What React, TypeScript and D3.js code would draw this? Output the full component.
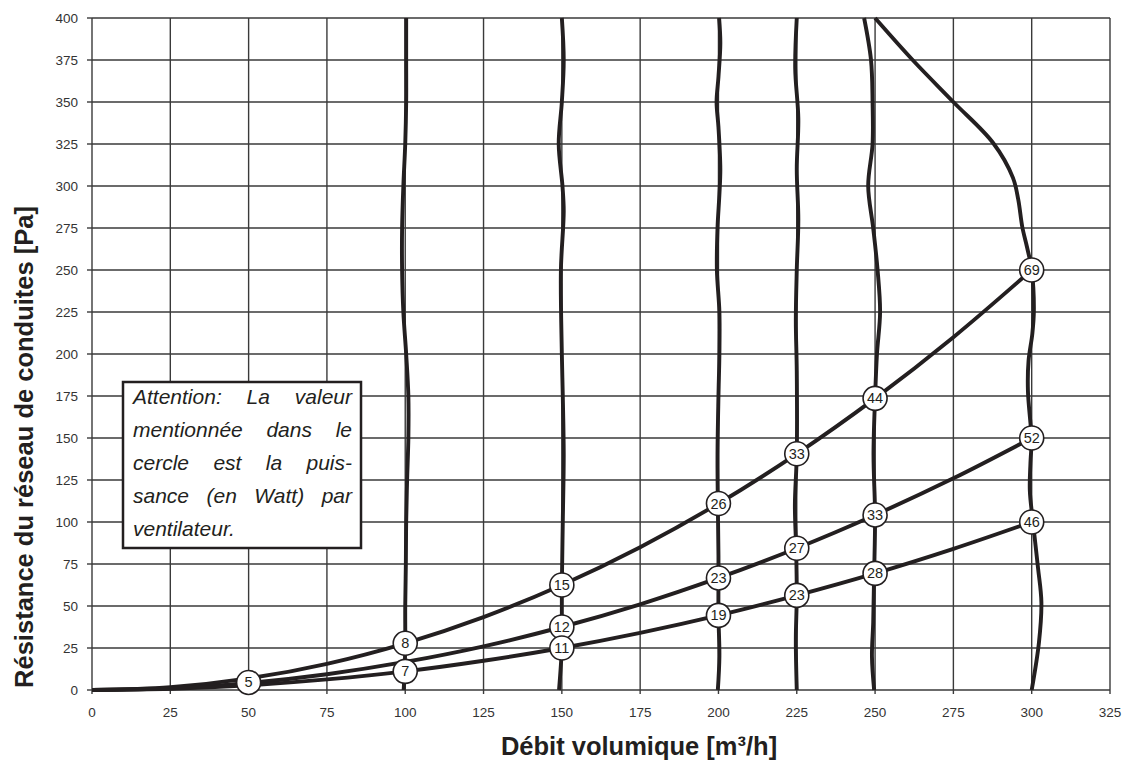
import React, { useMemo } from "react";
import * as d3 from "d3";

const W = 1123;
const H = 767;
const PLOT = { left: 92, right: 1110, top: 18, bottom: 690 };

const xTicks = [0, 25, 50, 75, 100, 125, 150, 175, 200, 225, 250, 275, 300, 325];
const yTicks = [0, 25, 50, 75, 100, 125, 150, 175, 200, 225, 250, 275, 300, 325, 350, 375, 400];

// System curves (resistance vs flow)
const systemHigh: [number, number][] = [
  [0, 0], [25, 1.7], [50, 6.9], [75, 15.6], [100, 27.8], [125, 43.4], [150, 62.5], [175, 85],
  [200, 111], [225, 140.6], [250, 173.6], [275, 210], [300, 250],
];
const systemMid: [number, number][] = [
  [0, 0], [25, 1.0], [50, 4.2], [75, 9.4], [100, 16.7], [125, 26], [150, 37.5], [175, 51],
  [200, 66.7], [225, 84.4], [250, 104.2], [275, 126], [300, 150],
];
const systemLow: [number, number][] = [
  [0, 0], [25, 0.7], [50, 2.8], [75, 6.3], [100, 11.1], [125, 17.4], [150, 25], [175, 34],
  [200, 44.4], [225, 56.3], [250, 69.4], [275, 84], [300, 100],
];

// Fan curves (near-vertical), [flow, pressure]
const fan100: [number, number][] = [
  [100.3, 400], [100.3, 375], [100.3, 350], [100, 325], [99.4, 300], [99.0, 275], [99.0, 250],
  [99.4, 225], [100.3, 200], [101.0, 175], [101.0, 150], [100.6, 125], [100.3, 100], [100.2, 75],
  [100, 50], [100, 28], [99.8, 11], [99.5, 0],
];
const fan150: [number, number][] = [
  [150.0, 400], [150.6, 375], [150.0, 350], [149.0, 325], [150.2, 300], [150.6, 285], [149.7, 250],
  [150.0, 200], [150.3, 175], [150.6, 140], [150.3, 100], [150, 62], [150, 37], [150, 25], [149.1, 0],
];
const fan200: [number, number][] = [
  [200.2, 400], [200.6, 385], [200, 365], [199.4, 350], [200, 335], [200.6, 310], [200.3, 295],
  [199.7, 275], [199.5, 250], [200.3, 225], [200.3, 200], [200, 175], [199.7, 140], [199.8, 111],
  [200, 80], [200, 67], [200, 44], [200.3, 20], [199.8, 0],
];
const fan225: [number, number][] = [
  [225, 400], [224.5, 370], [225.5, 340], [225, 310], [225.5, 280], [225, 250], [224.7, 220],
  [225, 190], [225, 140], [224.4, 110], [224.8, 84], [225, 56], [224.7, 30], [225, 0],
];
const fan250: [number, number][] = [
  [246.5, 400], [248.7, 375], [249.2, 350], [249.2, 325], [247.8, 300], [249.4, 275], [250.8, 250],
  [251.6, 225], [250.6, 200], [250, 174], [249.5, 140], [250, 104], [249.7, 69], [249.4, 40],
  [249.0, 20], [249.7, 0],
];
const fan300: [number, number][] = [
  [250, 400], [262, 375], [275, 350], [287.7, 325.6], [294, 305], [295.7, 292], [297, 275.6],
  [298.5, 263.7], [300, 250], [300.7, 226], [300.2, 212], [299, 196], [298.8, 178], [299.6, 159],
  [300, 150], [299.6, 135], [299.4, 119], [300.4, 100], [302, 73], [303.1, 52], [302.3, 28], [300, 0],
];

// Power labels (Watt) at intersections
const labelX = [50, 100, 100, 150, 150, 150, 200, 200, 200, 225, 225, 225, 250, 250, 250, 300, 300, 300];
const labelY = [4.5, 27.8, 11.1, 62.5, 37.5, 25, 111, 66.7, 44.4, 140.6, 84.4, 56.3, 173.6, 104.2, 69.4, 250, 150, 100];
const labelText = ["5", "8", "7", "15", "12", "11", "26", "23", "19", "33", "27", "23", "44", "33", "28", "69", "52", "46"];

const noteLines = [
  "Attention: La valeur",
  "mentionnée dans le",
  "cercle est la puis-",
  "sance (en Watt) par",
  "ventilateur.",
];

const INK = "#231f20";
const GRID = "#3a3a3a";
const FONT = "'Liberation Sans', Arial, Helvetica, sans-serif";

export default function App() {
  const x = d3.scaleLinear().domain([0, 325]).range([PLOT.left, PLOT.right]);
  const y = d3.scaleLinear().domain([0, 400]).range([PLOT.bottom, PLOT.top]);

  const smooth = d3
    .line<[number, number]>()
    .x((d) => x(d[0]))
    .y((d) => y(d[1]))
    .curve(d3.curveCatmullRom.alpha(0.5));

  const fans = [fan100, fan150, fan200, fan225, fan250, fan300];
  const systems = [systemHigh, systemMid, systemLow];

  const box = { x: 123, y: 382, w: 238, h: 166 };
  const noteFontSize = 21;
  const noteFont = `italic ${noteFontSize}px 'Liberation Sans', Arial, sans-serif`;
  const textLeft = box.x + 10;
  const textRight = box.x + box.w - 9;

  const noteWords = useMemo(() => {
    const canvas = document.createElement("canvas");
    const ctx = canvas.getContext("2d")!;
    ctx.font = noteFont;
    const out: { word: string; x: number; line: number }[] = [];
    noteLines.forEach((line, li) => {
      const words = line.split(" ");
      const widths = words.map((w) => ctx.measureText(w).width);
      const total = widths.reduce((a, b) => a + b, 0);
      const isLast = li === noteLines.length - 1;
      const gap = isLast || words.length < 2
        ? ctx.measureText(" ").width
        : (textRight - textLeft - total) / (words.length - 1);
      let cx = textLeft;
      words.forEach((w, i) => {
        out.push({ word: w, x: cx, line: li });
        cx += widths[i] + gap;
      });
    });
    return out;
  }, []);

  return (
    <svg
      width={W}
      height={H}
      viewBox={`0 0 ${W} ${H}`}
      style={{ position: "absolute", left: 0, top: 0, background: "#fff" }}
      fontFamily={FONT}
    >
      <defs>
        <clipPath id="plotClip">
          <rect x={PLOT.left} y={PLOT.top - 2} width={PLOT.right - PLOT.left} height={PLOT.bottom - PLOT.top + 4} />
        </clipPath>
      </defs>
      <rect x={0} y={0} width={W} height={H} fill="#fff" />

      {/* grid */}
      <g stroke={GRID} strokeWidth={1.4}>
        {xTicks.map((t) => (
          <line key={"gx" + t} x1={x(t)} x2={x(t)} y1={y(0)} y2={y(400)} />
        ))}
        {yTicks.map((t) => (
          <line key={"gy" + t} x1={x(0)} x2={x(325)} y1={y(t)} y2={y(t)} />
        ))}
        {xTicks.map((t) => (
          <line key={"tx" + t} x1={x(t)} x2={x(t)} y1={y(0)} y2={y(0) + 4} />
        ))}
        {yTicks.map((t) => (
          <line key={"ty" + t} x1={x(0) - 5} x2={x(0)} y1={y(t)} y2={y(t)} />
        ))}
      </g>

      {/* tick labels */}
      <g fontSize={13.5} fill="#333">
        {xTicks.map((t) => (
          <text key={"lx" + t} x={x(t)} y={y(0) + 27} textAnchor="middle">{t}</text>
        ))}
        {yTicks.map((t) => (
          <text key={"ly" + t} x={x(0) - 14} y={y(t) + 5} textAnchor="end">{t}</text>
        ))}
      </g>

      {/* curves */}
      <g clipPath="url(#plotClip)" fill="none" stroke={INK} strokeWidth={3.9} strokeLinejoin="round" strokeLinecap="butt">
        {fans.map((f, i) => (
          <path key={"fan" + i} d={smooth(f) || ""} />
        ))}
        {systems.map((s, i) => (
          <path key={"sys" + i} d={smooth(s) || ""} />
        ))}
      </g>

      {/* power circles */}
      <g>
        {labelText.map((t, i) => (
          <g key={"c" + i} transform={`translate(${x(labelX[i])},${y(labelY[i])})`}>
            <circle r={12} fill="#fff" stroke={INK} strokeWidth={1.6} />
            <text y={5} textAnchor="middle" fontSize={14.5} fill={INK}>{t}</text>
          </g>
        ))}
      </g>

      {/* note box */}
      <rect x={box.x} y={box.y} width={box.w} height={box.h} fill="#fff" stroke={INK} strokeWidth={2.5} />
      <g fontSize={noteFontSize} fontStyle="italic" fill={INK}>
        {noteWords.map((w, i) => (
          <text key={"w" + i} x={w.x} y={box.y + 22 + w.line * 33}>{w.word}</text>
        ))}
      </g>

      {/* axis titles */}
      <text
        x={639}
        y={755}
        textAnchor="middle"
        fontSize={25.5}
        fontWeight="bold"
        fill={INK}
      >
        Débit volumique [m³/h]
      </text>
      <text
        transform={`translate(33, 447) rotate(-90)`}
        textAnchor="middle"
        fontSize={25.5}
        fontWeight="bold"
        fill={INK}
      >
        Résistance du réseau de conduites [Pa]
      </text>
    </svg>
  );
}
